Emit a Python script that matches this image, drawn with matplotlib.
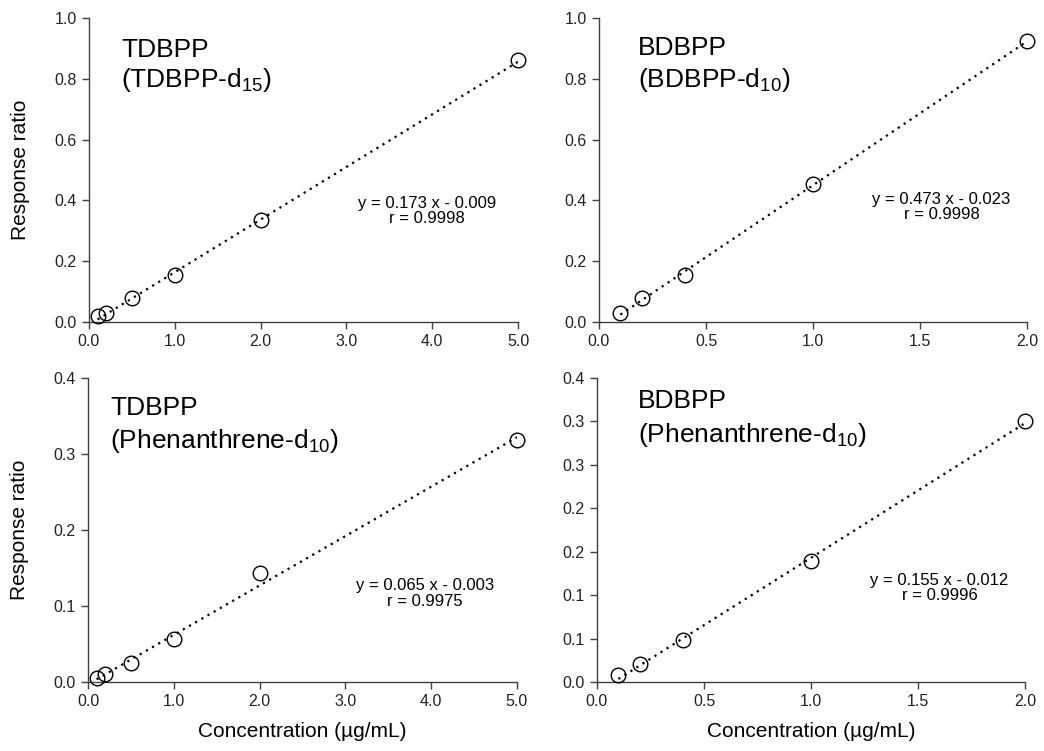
import numpy as np
import matplotlib
matplotlib.use("Agg")
import matplotlib.pyplot as plt

plt.rcParams['font.family'] = ['Liberation Sans', 'DejaVu Sans']
plt.rcParams['mathtext.fontset'] = 'custom'
plt.rcParams['mathtext.rm'] = 'Liberation Sans'
plt.rcParams['mathtext.it'] = 'Liberation Sans:italic'

# ---- data ----
tdbpp_x = [0.1, 0.2, 0.5, 1.0, 2.0, 5.0]
tdbpp_d15_y = [0.019, 0.030, 0.079, 0.155, 0.336, 0.861]
tdbpp_phen_y = [0.0057, 0.010, 0.025, 0.056, 0.144, 0.318]

bdbpp_x = [0.1, 0.2, 0.4, 1.0, 2.0]
bdbpp_d10_y = [0.028, 0.079, 0.154, 0.454, 0.925]
bdbpp_phen_y = [0.0077, 0.0208, 0.048, 0.139, 0.300]

fit_tdbpp_d15 = (0.173, -0.009)
fit_bdbpp_d10 = (0.473, -0.023)
fit_tdbpp_phen = (0.065, -0.003)
fit_bdbpp_phen = (0.155, -0.012)

eq_texts = ["y = 0.173 x - 0.009\nr = 0.9998",
            "y = 0.473 x - 0.023\nr = 0.9998",
            "y = 0.065 x - 0.003\nr = 0.9975",
            "y = 0.155 x - 0.012\nr = 0.9996"]
title1 = ["TDBPP", "BDBPP", "TDBPP", "BDBPP"]
title2 = [r"(TDBPP-d$_{15}$)", r"(BDBPP-d$_{10}$)",
          r"(Phenanthrene-d$_{10}$)", r"(Phenanthrene-d$_{10}$)"]

x5_ticks = [0.0, 1.0, 2.0, 3.0, 4.0, 5.0]
x5_labels = ["0.0", "1.0", "2.0", "3.0", "4.0", "5.0"]
x2_ticks = [0.0, 0.5, 1.0, 1.5, 2.0]
x2_labels = ["0.0", "0.5", "1.0", "1.5", "2.0"]
ytop_ticks = [0.0, 0.2, 0.4, 0.6, 0.8, 1.0]
ytop_labels = ["0.0", "0.2", "0.4", "0.6", "0.8", "1.0"]
ybl_ticks = [0.0, 0.1, 0.2, 0.3, 0.4]
ybl_labels = ["0.0", "0.1", "0.2", "0.3", "0.4"]
ybr_ticks = [0.0, 0.05, 0.10, 0.15, 0.20, 0.25, 0.30, 0.35]
ybr_labels = ["0.0", "0.1", "0.1", "0.2", "0.2", "0.3", "0.3", "0.4"]

fig = plt.figure(figsize=(10.44, 7.51), dpi=100)
W, H = 1044, 751

def make_ax(l, t, r, b):
    return fig.add_axes([l / W, 1 - b / H, (r - l) / W, (b - t) / H])

axes = [make_ax(89, 18, 518, 322), make_ax(599, 18, 1027, 322),
        make_ax(88, 378, 517, 682), make_ax(597, 378, 1025, 682)]

panels = [
    (tdbpp_x, tdbpp_d15_y, fit_tdbpp_d15, (0, 5), (0, 1.0), x5_ticks, x5_labels, ytop_ticks, ytop_labels),
    (bdbpp_x, bdbpp_d10_y, fit_bdbpp_d10, (0, 2), (0, 1.0), x2_ticks, x2_labels, ytop_ticks, ytop_labels),
    (tdbpp_x, tdbpp_phen_y, fit_tdbpp_phen, (0, 5), (0, 0.4), x5_ticks, x5_labels, ybl_ticks, ybl_labels),
    (bdbpp_x, bdbpp_phen_y, fit_bdbpp_phen, (0, 2), (0, 0.35), x2_ticks, x2_labels, ybr_ticks, ybr_labels),
]

title_pos = [(0.075, 0.872, 0.772), (0.091, 0.878, 0.773),
             (0.051, 0.878, 0.770), (0.096, 0.900, 0.790)]
eq_pos = [(0.788, 0.365), (0.80, 0.378), (0.786, 0.292), (0.80, 0.309)]

spine_col = '#404040'
for i, (ax, p) in enumerate(zip(axes, panels)):
    xs, ys, (m, c), xl, yl, xt, xtl, yt, ytl = p
    xs = np.array(xs)
    xx = np.linspace(xs.min(), xs.max(), 50)
    ax.plot(xx, m * xx + c, linestyle=(0, (1, 2.2)), color='black', lw=1.6, zorder=2)
    ax.plot(xs, ys, linestyle='none', marker='o', markersize=10.5,
            markerfacecolor='none', markeredgecolor='black', markeredgewidth=1.0, zorder=3,
            clip_on=False)
    ax.set_xlim(*xl)
    ax.set_ylim(*yl)
    ax.set_xticks(xt)
    ax.set_xticklabels(xtl)
    ax.set_yticks(yt)
    ax.set_yticklabels(ytl)
    for s in ['top', 'right']:
        ax.spines[s].set_visible(False)
    for s in ['left', 'bottom']:
        ax.spines[s].set_color(spine_col)
        ax.spines[s].set_linewidth(1.0)
    ax.tick_params(direction='out', length=5, width=1.0, color=spine_col,
                   labelsize=11.5, labelcolor='#222222', pad=4)
    tx, ty1, ty2 = title_pos[i]
    ax.text(tx, ty1, title1[i], transform=ax.transAxes, fontsize=19, va='baseline', ha='left')
    ax.text(tx, ty2, title2[i], transform=ax.transAxes, fontsize=19, va='baseline', ha='left')
    ex, ey = eq_pos[i]
    ax.text(ex, ey, eq_texts[i], transform=ax.transAxes, fontsize=12, ha='center',
            va='center', multialignment='center', linespacing=1.05)

for ax in (axes[0], axes[2]):
    ax.set_ylabel("Response ratio", fontsize=15)
    ax.yaxis.set_label_coords(-0.138, 0.5)
for ax in (axes[2], axes[3]):
    ax.set_xlabel("Concentration (µg/mL)", fontsize=15)
    ax.xaxis.set_label_coords(0.5, -0.132)

fig.savefig("out.png", dpi=100)
